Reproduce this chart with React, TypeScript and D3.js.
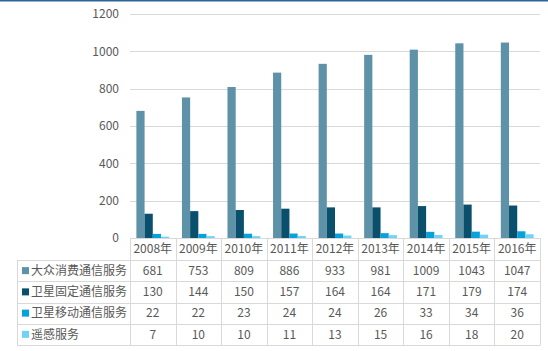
import { useEffect, useRef } from 'react';
import * as d3 from 'd3';

const YEARS = ['2008年', '2009年', '2010年', '2011年', '2012年', '2013年', '2014年', '2015年', '2016年'];
const SERIES_NAMES = ['大众消费通信服务', '卫星固定通信服务', '卫星移动通信服务', '遥感服务'];
const CONSUMER = [681, 753, 809, 886, 933, 981, 1009, 1043, 1047];
const FIXED = [130, 144, 150, 157, 164, 164, 171, 179, 174];
const MOBILE = [22, 22, 23, 24, 24, 26, 33, 34, 36];
const REMOTE = [7, 10, 10, 11, 13, 15, 16, 18, 20];
const Y_TICKS = [0, 200, 400, 600, 800, 1000, 1200];

const COLORS = ['#5d92a9', '#0a4f6b', '#05a3d9', '#6fd3f5'];
const FONT = '"Noto Sans CJK SC", "Noto Sans", sans-serif';
const TEXT = '#595959';
const GRID = '#d9d9d9';

export default function App() {
  const svgRef = useRef<SVGSVGElement>(null);

  useEffect(() => {
    const svg = d3.select(svgRef.current);
    svg.selectAll('*').remove();
    const width = 548;
    const height = 351;
    const left = 130;
    const right = 540;
    const tableLeft = 17;
    const rowTops = [260, 281.25, 302.5, 323.75, 345];

    const series = [CONSUMER, FIXED, MOBILE, REMOTE];

    const x = d3.scaleBand<string>().domain(YEARS).range([left, right]).paddingInner(0.28).paddingOuter(0.14);
    const xs = d3.scaleBand<number>().domain(d3.range(series.length)).range([0, x.bandwidth()]);
    const y = d3.scaleLinear().domain([0, 1200]).range([238, 14]);

    svg.append('rect').attr('width', width).attr('height', height).attr('fill', '#fff');
    svg.append('rect').attr('x', 0).attr('y', 0).attr('width', width).attr('height', 1.5).attr('fill', '#2e6399');

    const g = svg.append('g').attr('font-family', FONT);

    g.append('g')
      .selectAll('line')
      .data(Y_TICKS.filter((t) => t > 0))
      .join('line')
      .attr('x1', left)
      .attr('x2', right)
      .attr('y1', (d) => Math.round(y(d)) + 0.5)
      .attr('y2', (d) => Math.round(y(d)) + 0.5)
      .attr('stroke', GRID);

    g.append('g')
      .selectAll('text')
      .data(Y_TICKS)
      .join('text')
      .attr('x', 119)
      .attr('y', (d) => y(d))
      .attr('dy', '0.35em')
      .attr('text-anchor', 'end')
      .attr('font-size', 12)
      .attr('fill', TEXT)
      .text((d) => d);

    series.forEach((vals, si) => {
      g.append('g')
        .selectAll('rect')
        .data(vals)
        .join('rect')
        .attr('x', (_, i) => x(YEARS[i])! + xs(si)!)
        .attr('width', xs.bandwidth())
        .attr('y', (d) => y(d))
        .attr('height', (d) => y(0) - y(d))
        .attr('fill', COLORS[si]);
    });

    // table grid
    const step = x.step();
    const cols = d3.range(YEARS.length + 1).map((i) => left + i * step);
    const tg = g.append('g').attr('stroke', GRID).attr('stroke-width', 1);
    tg.append('line').attr('x1', left).attr('x2', right).attr('y1', 238.5).attr('y2', 238.5);
    rowTops.forEach((ry) => {
      tg.append('line').attr('x1', tableLeft).attr('x2', right).attr('y1', Math.round(ry) + 0.5).attr('y2', Math.round(ry) + 0.5);
    });
    cols.forEach((cx) => {
      tg.append('line').attr('x1', Math.round(cx) + 0.5).attr('x2', Math.round(cx) + 0.5).attr('y1', 238).attr('y2', 345.5);
    });
    tg.append('line').attr('x1', tableLeft + 0.5).attr('x2', tableLeft + 0.5).attr('y1', 260).attr('y2', 345.5);

    g.append('g')
      .selectAll('text')
      .data(YEARS)
      .join('text')
      .attr('x', (d) => x(d)! + x.bandwidth() / 2)
      .attr('y', 249)
      .attr('dy', '0.35em')
      .attr('text-anchor', 'middle')
      .attr('font-size', 12)
      .attr('fill', TEXT)
      .text((d) => d);

    series.forEach((vals, si) => {
      const cy = (rowTops[si] + rowTops[si + 1]) / 2;
      g.append('rect')
        .attr('x', 22)
        .attr('y', cy - 3.5)
        .attr('width', 7)
        .attr('height', 7)
        .attr('fill', COLORS[si]);
      g.append('text')
        .attr('x', 31)
        .attr('y', cy)
        .attr('dy', '0.35em')
        .attr('font-size', 12)
        .attr('fill', TEXT)
        .text(SERIES_NAMES[si]);
      g.append('g')
        .selectAll('text')
        .data(vals)
        .join('text')
        .attr('x', (_, i) => x(YEARS[i])! + x.bandwidth() / 2)
        .attr('y', cy)
        .attr('dy', '0.35em')
        .attr('text-anchor', 'middle')
        .attr('font-size', 12)
        .attr('fill', TEXT)
        .text((d) => d);
    });
  }, []);

  return (
    <svg
      ref={svgRef}
      width={548}
      height={351}
      style={{ position: 'absolute', left: 0, top: 0, display: 'block' }}
    />
  );
}
